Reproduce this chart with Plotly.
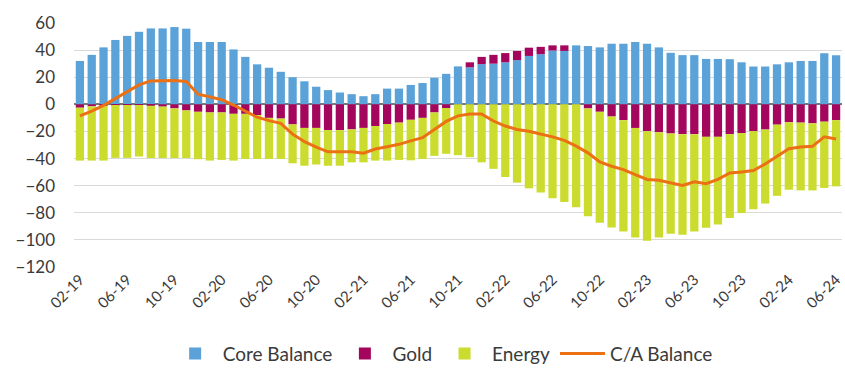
import plotly.graph_objects as go

# Monthly categories 02-19 .. 06-24
months = []
for yr in range(19, 25):
    for m in range(1, 13):
        if (yr == 19 and m < 2) or (yr == 24 and m > 6):
            continue
        months.append(f"{m:02d}-{yr}")

tick_labels = ["02-19", "06-19", "10-19", "02-20", "06-20", "10-20", "02-21", "06-21",
               "10-21", "02-22", "06-22", "10-22", "02-23", "06-23", "10-23", "02-24", "06-24"]

core_balance = [32, 36.5, 42, 47.5, 50.5, 53.5, 56, 56, 57, 55.8,
                46, 46, 46, 40.5, 35, 29.5, 27, 24, 20, 17,
                13, 10.5, 8.7, 7.5, 6, 7.5, 11.6, 11.6, 14.3, 15.7,
                19.6, 22.5, 28, 27.3, 29.7, 30, 31, 32.6, 35.7, 37,
                39.7, 39.4, 43.5, 43, 42, 44.7, 44.7, 46, 44.7, 42,
                38, 36.3, 36.3, 33.5, 33.5, 33.3, 31, 27.9, 27.9, 29.5,
                31, 32, 32, 37.7, 36.2]

gold = [-2.5, -1.5, -1, -0.5, -0.5, -0.5, -1, -1.7, -3, -4.5,
        -5.5, -6, -6, -7, -7, -8, -10, -10.5, -14.8, -17.4,
        -17.4, -19, -19, -18.5, -17.4, -16, -14.5, -13.5, -11.4, -10,
        -6, -2.7, 0, 3.7, 5.3, 6.5, 6.8, 6.8, 6.1, 5.4,
        3.8, 4.1, 0, -3, -5.5, -9, -11.7, -17.4, -19.8, -20.6,
        -21.5, -22, -22, -24, -24, -22, -21.2, -19.8, -18.6, -15,
        -13.2, -13.5, -14, -12.8, -11.7]

energy = [-39, -40, -40.5, -39, -39, -38, -38.6, -37.9, -36.6, -35.1,
          -35, -35.5, -35, -34.5, -33.3, -32.3, -30.3, -29.8, -28.7, -27.9,
          -27, -26.3, -26.3, -24.3, -25.4, -25.5, -27, -27.5, -29.9, -30.3,
          -32, -33.8, -37.5, -39, -42.8, -47.6, -53.6, -57.8, -62, -65,
          -69.3, -72, -76, -79.6, -81.9, -81.8, -82.1, -80.9, -80.9, -77.7,
          -74, -74.2, -71.8, -67, -64.6, -61.8, -59, -57.6, -54.6, -52.5,
          -49.8, -50, -49.5, -48.9, -48.8]

ca_balance = [-8.5, -5, -0.8, 4.2, 9.5, 14.3, 17.3, 17.6, 17.6, 16.8,
              7.5, 5.5, 3.4, -0.5, -5, -9.5, -12, -14, -22, -27.5,
              -31.5, -35, -35, -35, -36, -33, -31.3, -29.5, -27, -24.6,
              -18.6, -12.6, -8.5, -7.2, -7.2, -12.3, -16, -18.6, -19.8, -21.8,
              -24, -26.6, -30.8, -35.8, -42.5, -45.7, -48.2, -51.8, -55.4, -56,
              -57.8, -59.8, -57.2, -58.5, -55.4, -50.6, -50, -48.8, -44, -38.5,
              -32.8, -31.4, -31, -24, -25.6]

y_ticks = [60, 40, 20, 0, -20, -40, -60, -80, -100, -120]

FONT = "Lato"
TXT = "#3A3A3A"

fig = go.Figure()
fig.add_trace(go.Bar(x=months, y=core_balance, name="Core Balance",
                     marker=dict(color="#5AA2D8", line=dict(width=0))))
fig.add_trace(go.Bar(x=months, y=gold, name="Gold",
                     marker=dict(color="#A3065C", line=dict(width=0))))
fig.add_trace(go.Bar(x=months, y=energy, name="Energy",
                     marker=dict(color="#CCDC2E", line=dict(width=0))))
fig.add_trace(go.Scatter(x=months, y=ca_balance, name="C/A Balance", mode="lines",
                         line=dict(color="#EC7014", width=3)))

fig.update_layout(
    width=845, height=374,
    margin=dict(l=74, r=1, t=23, b=102),
    barmode="relative",
    bargap=0.3,
    plot_bgcolor="white",
    paper_bgcolor="white",
    font=dict(family=FONT, size=17, color=TXT),
    showlegend=True,
    legend=dict(orientation="h", x=0.48, xanchor="center", y=-0.355, yanchor="middle",
                font=dict(family=FONT, size=19, color=TXT),
                itemwidth=45, traceorder="normal"),
)
fig.update_xaxes(
    type="category",
    tickmode="array", tickvals=tick_labels, ticktext=tick_labels,
    tickangle=-45, showgrid=False, showline=False, ticks="",
    tickfont=dict(family=FONT, size=15, color=TXT),
)
fig.update_yaxes(
    range=[-120, 60], tickmode="array", tickvals=y_ticks,
    showgrid=True, gridcolor="#D9D9D9", gridwidth=1,
    zeroline=True, zerolinecolor="#777777", zerolinewidth=1.5,
    showline=False, ticks="", layer="above traces",
    ticklabelstandoff=18,
    tickfont=dict(family=FONT, size=17, color=TXT),
)

fig.write_html("out.html")
